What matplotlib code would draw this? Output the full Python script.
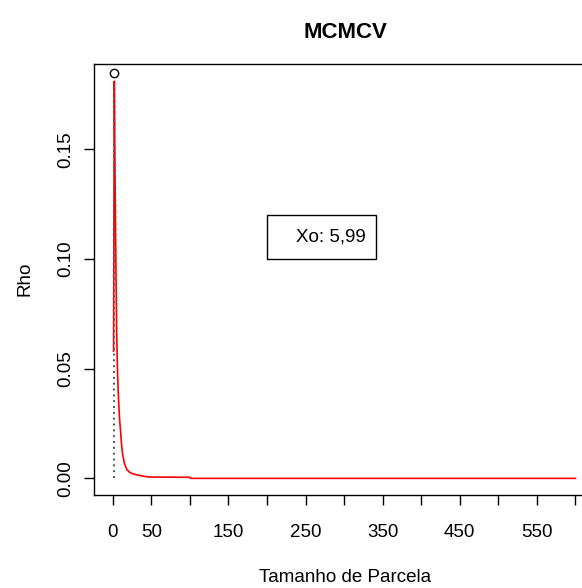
import matplotlib
matplotlib.use('Agg')
import matplotlib.pyplot as plt
from matplotlib.patches import Rectangle

plt.rcParams['font.family'] = ['Liberation Sans', 'DejaVu Sans']

# curve
tamanho = [1, 2, 3, 4, 5, 6, 7, 8, 9, 10, 11, 12, 13, 15, 18, 21, 25, 30, 35, 40, 45, 50, 100, 101, 600]
rho = [0.058, 0.181, 0.135, 0.098, 0.068, 0.050, 0.040, 0.032, 0.026, 0.022, 0.017, 0.013, 0.0105,
       0.0070, 0.0042, 0.0030, 0.0022, 0.0017, 0.0013, 0.0010, 0.0007, 0.0006, 0.0005, 0.0, 0.0]
x_max, rho_max = 1.5, 0.1849
x_ticks = list(range(0, 601, 50))
x_labels = ['0', '50', '', '150', '', '250', '', '350', '', '450', '', '550', '']
y_ticks = [0.00, 0.05, 0.10, 0.15]
xo_text = 'Xo: 5,99'

fig = plt.figure(figsize=(5.82, 5.88), dpi=100)
ax = fig.add_axes([0.162, 0.1577, 0.8586, 0.733])

ax.plot(tamanho, rho, color='red', lw=1.2)
ax.plot([x_max, x_max], [0, rho[1]], color='#555555', ls=(0, (1, 2)), lw=1.4)
ax.plot([x_max], [rho_max], 'o', mfc='white', mec='black', ms=6, mew=1.0)

ax.set_xlim(-24, 624)
ax.set_ylim(-0.0077, 0.1887)
ax.set_xticks(x_ticks)
ax.set_xticklabels(x_labels)
ax.set_yticks(y_ticks)
ax.set_yticklabels([f'{v:.2f}' for v in y_ticks], rotation=90, va='center')
ax.tick_params(axis='x', length=7.5, width=1, labelsize=13.5, pad=13)
ax.tick_params(axis='y', length=7.5, width=1, labelsize=13.5, pad=7)
for s in ax.spines.values():
    s.set_linewidth(1.0)

ax.add_patch(Rectangle((0.3456, 0.548), 0.2181, 0.102, transform=ax.transAxes,
                       fill=False, ec='black', lw=1.0))
ax.text(0.5437, 0.599, xo_text, transform=ax.transAxes, ha='right', va='center', fontsize=13.5)

fig.text(345 / 582, 1 - 32 / 588, 'MCMCV', ha='center', va='center', fontsize=16, fontweight='bold')
fig.text(345 / 582, 1 - 577 / 588, 'Tamanho de Parcela', ha='center', va='center', fontsize=13.5)
fig.text(25 / 582, 1 - 279 / 588, 'Rho', ha='center', va='center', rotation=90, fontsize=13.5)

fig.savefig('out.png', dpi=100)
